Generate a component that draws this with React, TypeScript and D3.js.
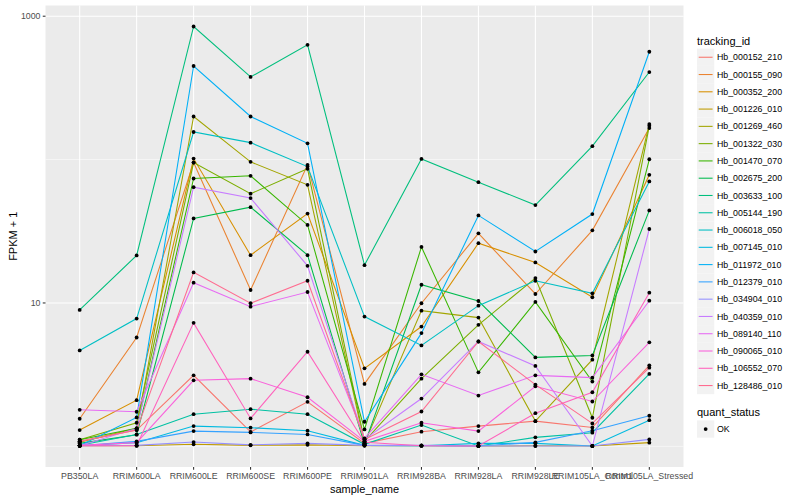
import * as d3 from 'd3';
import React, { useEffect, useRef } from 'react';

const categories = [
  'PB350LA',
  'RRIM600LA',
  'RRIM600LE',
  'RRIM600SE',
  'RRIM600PE',
  'RRIM901LA',
  'RRIM928BA',
  'RRIM928LA',
  'RRIM928LE',
  'RRIM105LA_Control',
  'RRIM105LA_Stressed',
];

const trackingIds = [
  'Hb_000152_210',
  'Hb_000155_090',
  'Hb_000352_200',
  'Hb_001226_010',
  'Hb_001269_460',
  'Hb_001322_030',
  'Hb_001470_070',
  'Hb_002675_200',
  'Hb_003633_100',
  'Hb_005144_190',
  'Hb_006018_050',
  'Hb_007145_010',
  'Hb_011972_010',
  'Hb_012379_010',
  'Hb_034904_010',
  'Hb_040359_010',
  'Hb_089140_110',
  'Hb_090065_010',
  'Hb_106552_070',
  'Hb_128486_010',
];

// ggplot hue palette, 20 levels
const palette = [
  '#F8766D', '#EA8331', '#D89000', '#C09B00', '#A3A500',
  '#7CAE00', '#39B600', '#00BB4E', '#00BF7D', '#00C1A3',
  '#00BFC4', '#00BAE0', '#00B0F6', '#35A2FF', '#9590FF',
  '#C77CFF', '#E76BF3', '#FA62DB', '#FF62BC', '#FF6C90',
];

// FPKM + 1, one value per sample (order of categories)
const hb000152_210 = [1.083, 1.298, 3.127, 1.261, 2.044, 1.049, 1.265, 1.384, 1.499, 1.355, 3.67];
const hb000155_090 = [1.557, 5.742, 95.3, 12.31, 91.9, 2.725, 9.95, 30.6, 11.55, 32.1, 166];
const hb000352_200 = [1.298, 2.097, 101.6, 21.54, 42.0, 3.498, 6.847, 26.1, 19.17, 10.96, 78.3];
const hb001226_010 = [1.008, 1.008, 1.033, 1.016, 1.024, 1.008, 1.008, 1.005, 1.008, 1.005, 1.061];
const hb001269_460 = [1.066, 1.334, 199.8, 96.4, 66.7, 1.049, 8.84, 7.905, 1.499, 4.019, 177];
const hb001322_030 = [1.113, 1.461, 95.3, 57.8, 86.2, 1.083, 2.966, 7.035, 14.92, 1.582, 172];
const hb001470_070 = [1.113, 1.334, 73.8, 77.1, 35.0, 1.312, 24.6, 3.281, 10.16, 2.827, 100.5];
const hb002675_200 = [1.049, 1.206, 38.9, 46.6, 21.54, 1.033, 13.4, 10.32, 4.171, 4.305, 44.2];
const hb003633_100 = [8.94, 21.45, 848, 377, 632, 18.36, 101.1, 69.6, 48.2, 124.1, 408];
const hb005144_190 = [1.016, 1.211, 1.676, 1.816, 1.676, 1.033, 1.406, 1.005, 1.155, 1.245, 3.198];
const hb006018_050 = [4.664, 7.78, 155.8, 131.3, 89.4, 8.033, 5.052, 9.578, 14.29, 11.68, 70.4];
const hb007145_010 = [1.01, 1.061, 1.384, 1.349, 1.285, 1.016, 1.01, 1.049, 1.049, 1.005, 1.523];
const hb011972_010 = [1.01, 1.59, 449.6, 199.8, 129.8, 1.484, 6.161, 40.8, 22.86, 41.7, 565];
const hb012379_010 = [1.01, 1.083, 1.277, 1.251, 1.211, 1.016, 1.01, 1.005, 1.066, 1.285, 1.634];
const hb034904_010 = [1.01, 1.016, 1.071, 1.024, 1.049, 1.016, 1.016, 1.005, 1.005, 1.005, 1.118];
const hb040359_010 = [1.01, 1.334, 64.2, 53.9, 18.16, 1.118, 2.154, 5.387, 3.635, 1.005, 32.8];
const hb089140_110 = [1.798, 1.742, 13.84, 9.426, 11.92, 1.137, 3.178, 2.261, 3.127, 3.014, 10.37];
const hb090065_010 = [1.016, 1.061, 2.887, 2.966, 2.2, 1.083, 1.461, 1.277, 2.623, 2.054, 5.318];
const hb106552_070 = [1.01, 1.01, 7.263, 1.565, 4.567, 1.066, 1.01, 1.005, 1.703, 2.383, 11.79];
const hb128486_010 = [1.083, 1.298, 16.34, 9.95, 14.29, 1.118, 1.75, 5.387, 2.695, 1.445, 3.537];

const seriesValues = [
  hb000152_210, hb000155_090, hb000352_200, hb001226_010, hb001269_460,
  hb001322_030, hb001470_070, hb002675_200, hb003633_100, hb005144_190,
  hb006018_050, hb007145_010, hb011972_010, hb012379_010, hb034904_010,
  hb040359_010, hb089140_110, hb090065_010, hb106552_070, hb128486_010,
];

const majorBreaks = [10, 1000];
const minorBreaks = [1, 100];
const quantStatus = ['OK'];

const W = 800;
const H = 500;
const FONT = '"Liberation Sans", Arial, Helvetica, sans-serif';

const Chart: React.FC = () => {
  const ref = useRef<SVGSVGElement | null>(null);

  useEffect(() => {
    const svg = d3.select(ref.current);
    svg.selectAll('*').remove();

    const left = 45.5;
    const right = 683.5;
    const top = 5.5;
    const bottom = 467;

    const x = d3.scalePoint<string>().domain(categories).range([left, right]).padding(0.6);

    // log scale with ggplot-like 5% expansion
    const logs = seriesValues.flat().map(v => Math.log10(v));
    const lo = d3.min(logs) as number;
    const hi = d3.max(logs) as number;
    const pad = (hi - lo) * 0.05;
    const y = d3
      .scaleLog()
      .domain([10 ** (lo - pad), 10 ** (hi + pad)])
      .range([bottom, top]);

    svg.append('rect').attr('width', W).attr('height', H).attr('fill', '#ffffff');

    // panel
    svg
      .append('rect')
      .attr('x', left)
      .attr('y', top)
      .attr('width', right - left)
      .attr('height', bottom - top)
      .attr('fill', '#EBEBEB');

    // grid
    minorBreaks.forEach(b => {
      svg
        .append('line')
        .attr('x1', left)
        .attr('x2', right)
        .attr('y1', y(b))
        .attr('y2', y(b))
        .attr('stroke', '#ffffff')
        .attr('stroke-width', 0.53);
    });
    majorBreaks.forEach(b => {
      svg
        .append('line')
        .attr('x1', left)
        .attr('x2', right)
        .attr('y1', y(b))
        .attr('y2', y(b))
        .attr('stroke', '#ffffff')
        .attr('stroke-width', 1.07);
    });
    categories.forEach(c => {
      svg
        .append('line')
        .attr('x1', x(c) as number)
        .attr('x2', x(c) as number)
        .attr('y1', top)
        .attr('y2', bottom)
        .attr('stroke', '#ffffff')
        .attr('stroke-width', 1.07);
    });

    // lines
    const line = d3
      .line<number>()
      .x((_, i) => x(categories[i]) as number)
      .y(d => y(d));

    seriesValues.forEach((vals, i) => {
      svg
        .append('path')
        .attr('d', line(vals) as string)
        .attr('fill', 'none')
        .attr('stroke', palette[i])
        .attr('stroke-width', 1.07);
    });

    // points
    seriesValues.forEach(vals => {
      vals.forEach((v, j) => {
        svg
          .append('circle')
          .attr('cx', x(categories[j]) as number)
          .attr('cy', y(v))
          .attr('r', 1.9)
          .attr('fill', '#000000');
      });
    });

    // y axis
    majorBreaks.forEach(b => {
      svg
        .append('line')
        .attr('x1', left - 2.75)
        .attr('x2', left)
        .attr('y1', y(b))
        .attr('y2', y(b))
        .attr('stroke', '#333333')
        .attr('stroke-width', 1.07);
      svg
        .append('text')
        .attr('x', left - 5)
        .attr('y', y(b) + 3.1)
        .attr('text-anchor', 'end')
        .attr('font-family', FONT)
        .attr('font-size', 8.8)
        .attr('fill', '#4D4D4D')
        .text(String(b));
    });

    // x axis
    categories.forEach(c => {
      const cx = x(c) as number;
      svg
        .append('line')
        .attr('x1', cx)
        .attr('x2', cx)
        .attr('y1', bottom)
        .attr('y2', bottom + 2.75)
        .attr('stroke', '#333333')
        .attr('stroke-width', 1.07);
      svg
        .append('text')
        .attr('x', cx)
        .attr('y', bottom + 12)
        .attr('text-anchor', 'middle')
        .attr('font-family', FONT)
        .attr('font-size', 8.8)
        .attr('fill', '#4D4D4D')
        .text(c);
    });

    // axis titles
    svg
      .append('text')
      .attr('x', (left + right) / 2)
      .attr('y', 492.5)
      .attr('text-anchor', 'middle')
      .attr('font-family', FONT)
      .attr('font-size', 11)
      .attr('fill', '#000000')
      .text('sample_name');

    svg
      .append('text')
      .attr('transform', `translate(17,${(top + bottom) / 2}) rotate(-90)`)
      .attr('text-anchor', 'middle')
      .attr('font-family', FONT)
      .attr('font-size', 11)
      .attr('fill', '#000000')
      .text('FPKM + 1');

    // legend: tracking_id
    const legX = 697;
    const key = 17.28;
    const legTop = 48.6;

    svg
      .append('text')
      .attr('x', legX)
      .attr('y', 44.5)
      .attr('font-family', FONT)
      .attr('font-size', 11)
      .attr('fill', '#000000')
      .text('tracking_id');

    trackingIds.forEach((id, i) => {
      const ky = legTop + i * key;
      svg
        .append('rect')
        .attr('x', legX)
        .attr('y', ky)
        .attr('width', key)
        .attr('height', key)
        .attr('fill', '#F2F2F2');
      svg
        .append('line')
        .attr('x1', legX + 1.7)
        .attr('x2', legX + key - 1.7)
        .attr('y1', ky + key / 2)
        .attr('y2', ky + key / 2)
        .attr('stroke', palette[i])
        .attr('stroke-width', 1.07);
      svg
        .append('text')
        .attr('x', legX + key + 2.7)
        .attr('y', ky + key / 2 + 3.1)
        .attr('font-family', FONT)
        .attr('font-size', 8.8)
        .attr('fill', '#000000')
        .text(id);
    });

    // legend: quant_status
    svg
      .append('text')
      .attr('x', legX)
      .attr('y', 416)
      .attr('font-family', FONT)
      .attr('font-size', 11)
      .attr('fill', '#000000')
      .text('quant_status');

    quantStatus.forEach((s, i) => {
      const ky = 420.4 + i * key;
      svg
        .append('rect')
        .attr('x', legX)
        .attr('y', ky)
        .attr('width', key)
        .attr('height', key)
        .attr('fill', '#F2F2F2');
      svg
        .append('circle')
        .attr('cx', legX + key / 2)
        .attr('cy', ky + key / 2)
        .attr('r', 1.9)
        .attr('fill', '#000000');
      svg
        .append('text')
        .attr('x', legX + key + 2.7)
        .attr('y', ky + key / 2 + 3.1)
        .attr('font-family', FONT)
        .attr('font-size', 8.8)
        .attr('fill', '#000000')
        .text(s);
    });
  }, []);

  return (
    <svg
      ref={ref}
      width={W}
      height={H}
      style={{ position: 'absolute', left: 0, top: 0, display: 'block' }}
    />
  );
};

export default function App() {
  return <Chart />;
}
